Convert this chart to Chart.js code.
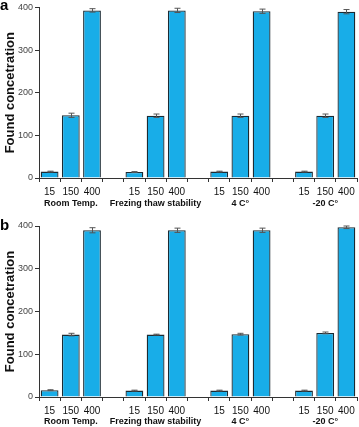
<!DOCTYPE html>
<html><head><meta charset="utf-8">
<script src="https://cdn.jsdelivr.net/npm/chart.js@4.4.1/dist/chart.umd.min.js"></script>
<style>
html,body{margin:0;padding:0;background:#fff;}
body{width:359px;height:427px;position:relative;overflow:hidden;font-family:"Liberation Sans",Arial,sans-serif;}
.panel{position:absolute;left:0;width:359px;}
.tag{position:absolute;left:0;font:bold 15px "Liberation Sans",Arial,sans-serif;color:#000;}
</style></head>
<body>
<div class="panel" style="top:0;height:213px"><canvas id="ca" width="359" height="213"></canvas></div>
<div class="panel" style="top:213px;height:214px"><canvas id="cb" width="359" height="214"></canvas></div>
<div class="tag" style="top:-4px">a</div>
<div class="tag" style="top:216px">b</div>
<script>
const groups = ['Room Temp.', 'Frezing thaw stability', '4 C°', '-20 C°'];
const concentrations = ['15', '150', '400'];
const foundA = [15, 147, 393, 14, 146, 393, 15, 146, 391, 15, 146, 390];
const errA   = [1, 5, 4, 1, 4, 5, 1, 4, 5, 1, 4, 5];
const foundB = [16, 146, 390, 15, 146, 390, 15, 147, 390, 15, 150, 397];
const errB   = [1, 3, 6, 1, 1, 5, 1, 2, 5, 1, 2, 3];
const yTicks = [0, 100, 200, 300, 400];

// build slot labels (3 bars per group, one empty slot between groups)
function slots(arr, gapVal) {
  const out = [];
  groups.forEach((g, gi) => {
    for (let i = 0; i < concentrations.length; i++) out.push(arr[gi * concentrations.length + i]);
    if (gi < groups.length - 1) out.push(gapVal);
  });
  return out;
}
const slotLabels = slots(groups.flatMap(() => concentrations), '');
const groupLabels = [];
groups.forEach((g, gi) => {
  groupLabels.push('', g, '');
  if (gi < groups.length - 1) groupLabels.push(' ');
});

const errorBars = {
  id: 'errorBars',
  afterDatasetsDraw(chart) {
    const errs = chart.options.plugins.errorBars.errors;
    const ds = chart.data.datasets[0];
    const x = chart.scales.x, y = chart.scales.y;
    const ctx = chart.ctx;
    ctx.save();
    ctx.strokeStyle = '#555';
    ctx.lineWidth = 1;
    ds.data.forEach((v, i) => {
      const e = errs[i];
      if (v == null || e == null) return;
      const px = Math.round(x.getPixelForValue(i)) + 0.5;
      const y1 = y.getPixelForValue(v + e), y2 = y.getPixelForValue(v - e);
      ctx.beginPath();
      ctx.moveTo(px, y1); ctx.lineTo(px, y2);
      ctx.moveTo(px - 3, y1); ctx.lineTo(px + 3, y1);
      ctx.moveTo(px - 3, y2); ctx.lineTo(px + 3, y2);
      ctx.stroke();
    });
    ctx.restore();
  }
};

function makeChart(id, values, errs, padTop, numHeight, groupHeight) {
  new Chart(document.getElementById(id), {
    type: 'bar',
    data: {
      labels: slotLabels,
      datasets: [{
        data: slots(values, null),
        backgroundColor: '#18ade8',
        borderColor: '#1c2b33',
        borderWidth: 1.3,
        categoryPercentage: 1.0,
        barPercentage: 0.84,
        xAxisID: 'x', yAxisID: 'y'
      }]
    },
    options: {
      responsive: false,
      animation: false,
      layout: { padding: { top: padTop, right: 2, left: 0, bottom: 0 } },
      plugins: {
        legend: { display: false },
        tooltip: { enabled: false },
        errorBars: { errors: slots(errs, null) }
      },
      scales: {
        y: {
          min: 0, max: 400,
          afterBuildTicks(s) { s.ticks = yTicks.map(v => ({ value: v })); },
          afterFit(s) { s.width = 39; },
          border: { display: true, color: '#333', width: 1 },
          grid: { drawOnChartArea: false, drawTicks: true, tickLength: 4, color: '#333' },
          ticks: { color: '#444', font: { family: 'Liberation Sans', size: 9 }, padding: 2 },
          title: {
            display: true, text: 'Found concetration', color: '#111',
            font: { family: 'Liberation Sans', size: 13, weight: 'bold' },
            padding: { top: 3, bottom: 0 }
          }
        },
        x: {
          position: 'bottom',
          offset: true,
          afterFit(s) { s.height = numHeight; },
          border: { display: true, color: '#333', width: 1 },
          grid: { offset: true, drawOnChartArea: false, drawTicks: true, tickLength: 4, color: '#333' },
          ticks: { autoSkip: false, maxRotation: 0, color: '#111', font: { family: 'Liberation Sans', size: 10 }, padding: 4 }
        },
        x2: {
          type: 'category',
          position: 'bottom',
          labels: groupLabels,
          offset: true,
          afterFit(s) { s.height = groupHeight; },
          border: { display: false },
          grid: { display: false, drawTicks: false },
          ticks: { autoSkip: false, maxRotation: 0, color: '#111', font: { family: 'Liberation Sans', size: 9, weight: 'bold' }, padding: 1 }
        }
      }
    },
    plugins: [errorBars]
  });
}
makeChart('ca', foundA, errA, 6, 19, 16);
makeChart('cb', foundB, errB, 13, 18, 12);
</script>
</body></html>
